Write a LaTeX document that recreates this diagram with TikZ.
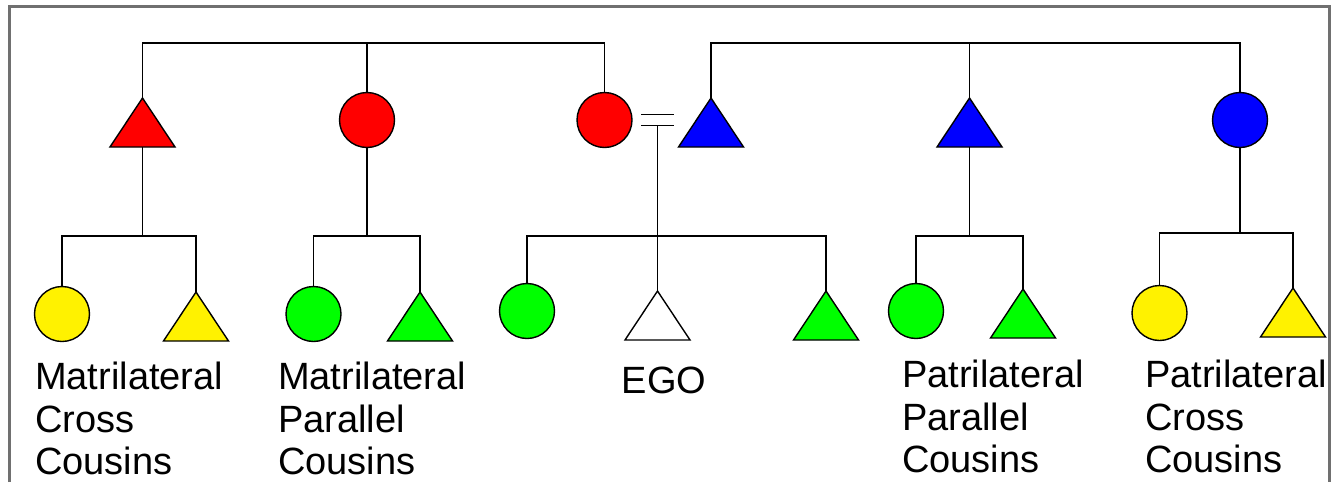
\documentclass[tikz,border=0pt]{standalone}
\usepackage{fontspec}
\setmainfont{Liberation Sans}
\definecolor{framegray}{HTML}{707070}
\tikzset{
 ln/.style={line width=1.4pt, draw=black},
 fem/.style={circle, draw=black, line width=1.4pt, minimum size=55pt, inner sep=0pt},
 mal/.style={rectangle, draw=none, minimum width=65pt, minimum height=49pt, inner sep=0pt, outer sep=0pt},
 tri/.style={line width=1.4pt, draw=black, line join=miter},
 lbl/.style={anchor=north west, inner sep=0pt, align=left, font=\fontsize{38}{42.5}\selectfont},
}
\begin{document}
\begin{tikzpicture}[x=1pt,y=-1pt]
\useasboundingbox (0,0) rectangle (1340,482);
% generation 1
\node[mal] (mt) at (142.5,122.5) {};
\node[fem, fill=red] (ma) at (367,120) {};
\node[fem, fill=red] (mo) at (604.5,120) {};
\node[mal] (fa) at (711,122.5) {};
\node[mal] (fb) at (969.5,122.5) {};
\node[fem, fill=blue] (fs) at (1240,120) {};
% generation 2
\node[fem, fill=yellow] (c1) at (62,314) {};
\node[mal] (c2) at (196,316.5) {};
\node[fem, fill=green] (c3) at (313.5,314) {};
\node[mal] (c4) at (420,316.5) {};
\node[fem, fill=green] (c5) at (527,311) {};
\node[mal] (ego) at (657.5,315.5) {};
\node[mal] (c6) at (826,315.5) {};
\node[fem, fill=green] (c7) at (916,311) {};
\node[mal] (c8) at (1023,313.5) {};
\node[fem, fill=yellow] (c9) at (1159.5,313) {};
\node[mal] (c10) at (1293,312.5) {};
% triangles
\foreach \n/\c in {mt/red, fa/blue, fb/blue, c2/yellow, c4/green, ego/white, c6/green, c8/green, c10/yellow}
  \filldraw[tri, fill=\c] (\n.south west) -- (\n.north) -- (\n.south east) -- cycle;
% coordinates
\coordinate (top) at (0,43);
\coordinate (sib) at (0,236);
\coordinate (sibr) at (0,233);
\coordinate (eqa) at (641,114.3);
\coordinate (eqb) at (674,114.3);
\coordinate (eqc) at (641,125.7);
\coordinate (eqd) at (674,125.7);
\coordinate (m) at (657.5,125.7);
% sibling lines of parents
\draw[ln] (mt.north) -- (mt.north |- top) -- (mo.north |- top) -- (mo.north);
\draw[ln] (ma.north) -- (ma.north |- top);
\draw[ln] (fa.north) -- (fa.north |- top) -- (fs.north |- top) -- (fs.north);
\draw[ln] (fb.north) -- (fb.north |- top);
% marriage
\draw[ln] (eqa) -- (eqb);
\draw[ln] (eqc) -- (eqd);
\draw[ln] (m) -- (ego.north);
\draw[ln] (c5.north) -- (c5.north |- sib) -- (c6.north |- sib) -- (c6.north);
% descent
\draw[ln] (mt.south) -- (mt.south |- sib);
\draw[ln] (c1.north) -- (c1.north |- sib) -- (c2.north |- sib) -- (c2.north);
\draw[ln] (ma.south) -- (ma.south |- sib);
\draw[ln] (c3.north) -- (c3.north |- sib) -- (c4.north |- sib) -- (c4.north);
\draw[ln] (fb.south) -- (fb.south |- sib);
\draw[ln] (c7.north) -- (c7.north |- sib) -- (c8.north |- sib) -- (c8.north);
\draw[ln] (fs.south) -- (fs.south |- sibr);
\draw[ln] (c9.north) -- (c9.north |- sibr) -- (c10.north |- sibr) -- (c10.north);
% labels
\node[lbl] (l1) at (35,362) {Matrilateral\\Cross\\Cousins};
\node[lbl] (l2) at (278,362) {Matrilateral\\Parallel\\Cousins};
\node[lbl, anchor=north] (l3) at (664,367) {EGO};
\node[lbl] (l4) at (902,360) {Patrilateral\\Parallel\\Cousins};
\node[lbl] (l5) at (1145,360) {Patrilateral\\Cross\\Cousins};
% frame
\draw[framegray, line width=3pt] (9.5,482) -- (9.5,6) -- (1329.5,6) -- (1329.5,482);
\end{tikzpicture}
\end{document}
